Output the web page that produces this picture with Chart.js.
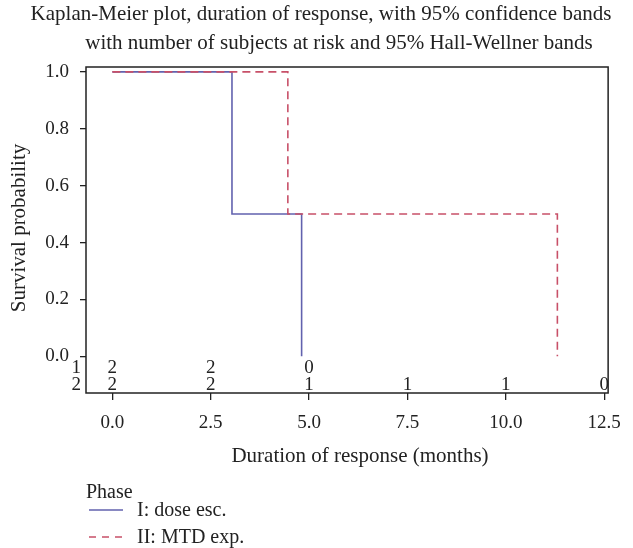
<!DOCTYPE html>
<html>
<head>
<meta charset="utf-8">
<script src="https://cdn.jsdelivr.net/npm/chart.js@4"></script>
<style>
  html, body { margin: 0; padding: 0; background: #fff; }
  #chart { display: block; }
</style>
</head>
<body>
<canvas id="chart" width="633" height="548"></canvas>
<script>
// Kaplan-Meier curves
const timesI = [0, 3.04, 4.81];
const survI = [1.0, 0.5, 0.0];
const timesII = [0, 4.46, 11.31];
const survII = [1.0, 0.5, 0.0];

// number at risk table
const riskTimes = [0, 2.5, 5, 7.5, 10, 12.5];
const riskI = [2, 2, 0];
const riskII = [2, 2, 1, 1, 1, 0];
const riskRowLabels = ["1", "2"];

const xTicks = [0, 2.5, 5, 7.5, 10, 12.5];
const yTicks = [0, 0.2, 0.4, 0.6, 0.8, 1.0];

const titleLines = [
  "Kaplan-Meier plot, duration of response, with 95% confidence bands",
  "with number of subjects at risk and 95% Hall-Wellner bands"
];
const seriesNames = ["I: dose esc.", "II: MTD exp."];

const FONT = "'Liberation Serif', 'DejaVu Serif', serif";
const INK = "#222";
const BLUE = "#6262ae";
const RED = "#c85068";

const toPoints = (xs, ys) => xs.map((x, i) => ({ x: x, y: ys[i] }));

// extra drawing: box, titles, at-risk numbers, legend
const decor = {
  id: "decor",
  afterDatasetsDraw(chart) {
    const ctx = chart.ctx;
    const a = chart.chartArea;
    const xs = chart.scales.x;
    const ys = chart.scales.y;
    ctx.save();

    ctx.strokeStyle = INK;
    ctx.lineWidth = 1.5;
    ctx.strokeRect(a.left, a.top, a.right - a.left, a.bottom - a.top);

    ctx.fillStyle = INK;
    ctx.font = "21px " + FONT;
    ctx.textAlign = "center";
    ctx.textBaseline = "alphabetic";
    ctx.fillText(titleLines[0], 321, 20);
    ctx.fillText(titleLines[1], 339, 49);

    // axis titles
    ctx.fillText("Duration of response (months)", 360, 462);
    ctx.save();
    ctx.translate(25, 228);
    ctx.rotate(-Math.PI / 2);
    ctx.fillText("Survival probability", 0, 0);
    ctx.restore();

    // numbers at risk
    ctx.font = "19px " + FONT;
    ctx.textBaseline = "middle";
    const rows = [riskI, riskII];
    const rowY = [-0.040, -0.100];
    rows.forEach((row, r) => {
      const y = ys.getPixelForValue(rowY[r]);
      ctx.textAlign = "center";
      row.forEach((n, i) => {
        ctx.fillText(String(n), xs.getPixelForValue(riskTimes[i]), y);
      });
      ctx.textAlign = "right";
      ctx.fillText(riskRowLabels[r], a.left - 5, y);
    });

    // legend
    ctx.textAlign = "left";
    ctx.textBaseline = "alphabetic";
    ctx.font = "20px " + FONT;
    ctx.fillText("Phase", 86, 498);
    const legY = [510, 537];
    const colors = [BLUE, RED];
    const dashes = [[], [7, 6]];
    legY.forEach((y, i) => {
      ctx.strokeStyle = colors[i];
      ctx.lineWidth = 1.6;
      ctx.setLineDash(dashes[i]);
      ctx.beginPath();
      ctx.moveTo(89, y);
      ctx.lineTo(123, y);
      ctx.stroke();
      ctx.setLineDash([]);
      ctx.fillStyle = INK;
      ctx.textBaseline = "alphabetic";
      ctx.fillText(seriesNames[i], 137, y + 6);
    });
    ctx.restore();
  }
};

new Chart(document.getElementById("chart"), {
  type: "line",
  data: {
    datasets: [
      {
        label: seriesNames[0],
        data: toPoints(timesI, survI),
        borderColor: BLUE,
        borderWidth: 1.6,
        stepped: "before",
        pointRadius: 0,
        fill: false,
        order: 1
      },
      {
        label: seriesNames[1],
        data: toPoints(timesII, survII),
        borderColor: RED,
        borderWidth: 1.6,
        borderDash: [8, 5],
        stepped: "before",
        pointRadius: 0,
        fill: false,
        order: 0
      }
    ]
  },
  options: {
    responsive: false,
    animation: false,
    layout: { padding: { left: 0, right: 24, top: 67, bottom: 0 } },
    plugins: {
      legend: { display: false },
      title: { display: false },
      tooltip: { enabled: false }
    },
    scales: {
      x: {
        type: "linear",
        min: -0.67,
        max: 12.6,
        afterFit(scale) { scale.height = 548 - 393; },
        afterBuildTicks(scale) { scale.ticks = xTicks.map(v => ({ value: v })); },
        border: { display: false },
        grid: { drawOnChartArea: false, drawTicks: true, tickLength: 7, color: INK, lineWidth: 1.3 },
        ticks: {
          color: INK,
          font: { family: FONT, size: 19 },
          padding: 12,
          maxRotation: 0,
          callback: v => v.toFixed(1)
        }
      },
      y: {
        type: "linear",
        min: -0.129,
        max: 1.017,
        afterFit(scale) { scale.width = 86; },
        afterBuildTicks(scale) { scale.ticks = yTicks.map(v => ({ value: v })); },
        border: { display: false },
        grid: { drawOnChartArea: false, drawTicks: true, tickLength: 6, color: INK, lineWidth: 1.3 },
        ticks: {
          color: INK,
          font: { family: FONT, size: 19 },
          padding: 11,
          callback: v => v.toFixed(1)
        }
      }
    }
  },
  plugins: [decor]
});
</script>
</body>
</html>
